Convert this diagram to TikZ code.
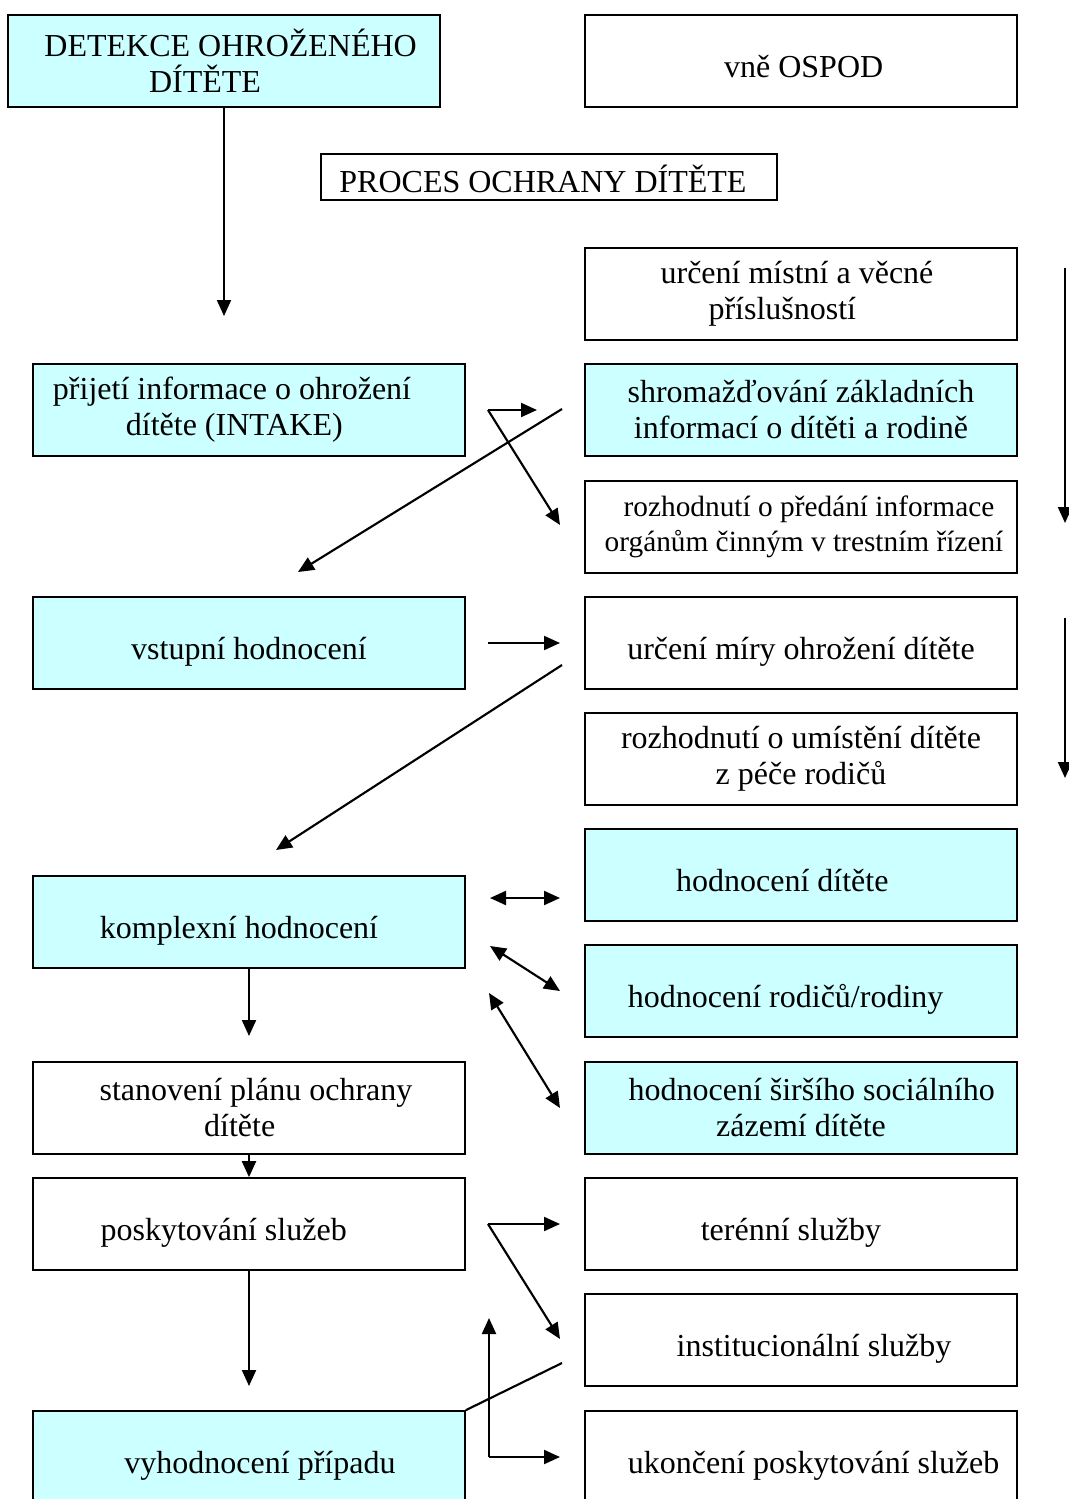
\documentclass[tikz,border=0pt]{standalone}
\usepackage{fontspec}
\setmainfont{Liberation Serif}
\usepackage{xcolor}
\usetikzlibrary{arrows.meta}
\definecolor{svetla}{HTML}{CCFFFF}
\newcommand{\posun}[1]{\hspace*{#1}}
\tikzset{
  box/.style={draw, line width=1.3pt, minimum width=324pt, minimum height=69pt,
    inner sep=0pt, align=center, font=\fontsize{24}{27}\selectfont},
  modra/.style={box, fill=svetla},
  jeden/.style={text height=27pt, text depth=3pt},
  arr/.style={-{Triangle[length=12pt,width=10.5pt]}, line width=1.6pt},
  darr/.style={{Triangle[length=12pt,width=10.5pt]}-{Triangle[length=12pt,width=10.5pt]}, line width=1.6pt}
}

\begin{document}
\begin{tikzpicture}[x=0.75pt,y=-0.75pt]
  \useasboundingbox (0,0) rectangle (1069,1499);
  % horni cast
  \node[modra] (detekce) at (224,61) {\posun{10pt}DETEKCE OHROŽENÉHO\\\posun{-28.5pt}DÍTĚTE};
  \node[box, jeden] (vne) at (801,61) {\posun{4pt}vně OSPOD};
  \node[box, minimum width=342pt, minimum height=34.5pt, text height=26pt, text depth=3pt] (proces) at (549,177) {\posun{-9pt}PROCES OCHRANY DÍTĚTE};
  % levy sloupec
  \node[modra] (intake) at (249,410) {\posun{-25.5pt}přijetí informace o ohrožení\\\posun{-22pt}dítěte (INTAKE)};
  \node[modra, jeden] (vstupni) at (249,643) {vstupní hodnocení};
  \node[modra, jeden] (komplexni) at (249,922) {\posun{-15pt}komplexní hodnocení};
  \node[box] (plan) at (249,1108) {\posun{10.5pt}stanovení plánu ochrany\\\posun{-14pt}dítěte};
  \node[box, jeden] (sluzby) at (249,1224) {\posun{-38pt}poskytování služeb};
  \node[modra, jeden] (vyhodnoceni) at (249,1457) {\posun{16.5pt}vyhodnocení případu};
  % pravy sloupec
  \node[box] (prislusnost) at (801,294) {\posun{-6pt}určení místní a věcné\\\posun{-28pt}příslušností};
  \node[modra] (shromazdovani) at (801,410) {shromažďování základních\\informací o dítěti a rodině};
  \node[box, font=\fontsize{22}{26}\selectfont] (predani) at (801,527) {\posun{12pt}rozhodnutí o předání informace\\\posun{4.5pt}orgánům činným v trestním řízení};
  \node[box, jeden] (mira) at (801,643) {určení míry ohrožení dítěte};
  \node[box] (umisteni) at (801,759) {rozhodnutí o umístění dítěte\\z péče rodičů};
  \node[modra, jeden] (hdite) at (801,875) {\posun{-28pt}hodnocení dítěte};
  \node[modra, jeden] (hrodice) at (801,991) {\posun{-23pt}hodnocení rodičů/rodiny};
  \node[modra] (hzazemi) at (801,1108) {\posun{16pt}hodnocení širšího sociálního\\zázemí dítěte};
  \node[box, jeden] (terenni) at (801,1224) {\posun{-15pt}terénní služby};
  \node[box, jeden] (instituce) at (801,1340) {\posun{19.5pt}institucionální služby};
  \node[box, jeden] (ukonceni) at (801,1457) {\posun{19pt}ukončení poskytování služeb};
  % volne konce
  \coordinate (d1) at (224,316);
  \coordinate (r1) at (488,410); \coordinate (r1a) at (537,410); \coordinate (r1b) at (560,525);
  \coordinate (s1) at (562,409); \coordinate (s1b) at (298,572);
  \coordinate (v1) at (488,643); \coordinate (v1b) at (560,643);
  \coordinate (m1) at (562,665); \coordinate (m1b) at (276,850);
  \coordinate (k1) at (490,898); \coordinate (k1b) at (560,898);
  \coordinate (k2) at (490,946); \coordinate (k2b) at (560,991);
  \coordinate (k3) at (489,993); \coordinate (k3b) at (560,1108);
  \coordinate (k4) at (249,1036);
  \coordinate (p1) at (249,1386);
  \coordinate (r2) at (488,1224); \coordinate (r2a) at (560,1224); \coordinate (r2b) at (560,1339);
  \coordinate (i1) at (562,1363);
  \coordinate (u1) at (489,1457); \coordinate (u1a) at (489,1318); \coordinate (u1b) at (560,1457);
  \coordinate (a1) at (1065,268); \coordinate (a1b) at (1065,523);
  \coordinate (a2) at (1065,618); \coordinate (a2b) at (1065,778);
  % sipky
  \draw[arr] (detekce) -- (d1);
  \draw[arr] (r1) -- (r1a);
  \draw[arr] (r1) -- (r1b);
  \draw[arr] (s1) -- (s1b);
  \draw[arr] (v1) -- (v1b);
  \draw[arr] (m1) -- (m1b);
  \draw[darr] (k1) -- (k1b);
  \draw[darr] (k2) -- (k2b);
  \draw[darr] (k3) -- (k3b);
  \draw[arr] (komplexni) -- (k4);
  \draw[arr] (plan) -- (sluzby);
  \draw[arr] (sluzby) -- (p1);
  \draw[arr] (r2) -- (r2a);
  \draw[arr] (r2) -- (r2b);
  \draw[line width=1.6pt] (i1) -- (vyhodnoceni.north east);
  \draw[arr] (u1) -- (u1a);
  \draw[arr] (u1) -- (u1b);
  \draw[arr] (a1) -- (a1b);
  \draw[arr] (a2) -- (a2b);
\end{tikzpicture}
\end{document}
